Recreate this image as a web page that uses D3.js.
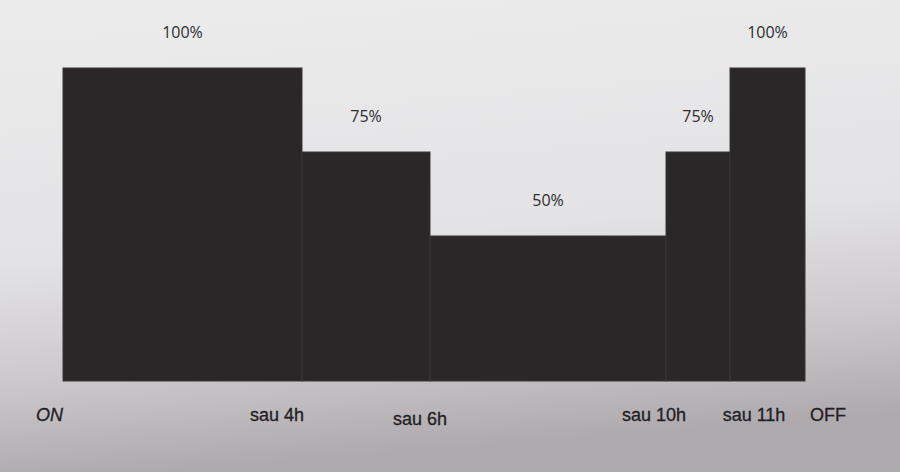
<!DOCTYPE html>
<html>
<head>
<meta charset="utf-8">
<script src="https://cdn.jsdelivr.net/npm/d3@7"></script>
<style>
  body { margin: 0; }
  svg { display: block; }
</style>
</head>
<body>
<svg id="chart"></svg>
<script>
// step segments: start hour, end hour, power level
const segStart = [0, 4, 6, 10, 11];
const segEnd = [4, 6, 10, 11, 12];
const power = [100, 75, 50, 75, 100];
const powerLabels = ['100%', '75%', '50%', '75%', '100%'];
// tick labels along the bottom
const tickHours = [0, 4, 6, 10, 11, 12];
const tickLabels = ['ON', 'sau 4h', 'sau 6h', 'sau 10h', 'sau 11h', 'OFF'];

const width = 900, height = 472;
const baseY = 381;

const svg = d3.select('#chart')
    .attr('width', width)
    .attr('height', height);

// paper-ish background from the photo
const defs = svg.append('defs');
const grad = defs.append('linearGradient')
    .attr('id', 'paper')
    .attr('x1', 0).attr('y1', 0).attr('x2', 0.15).attr('y2', 1);
grad.append('stop').attr('offset', '0%').attr('stop-color', '#ececed');
grad.append('stop').attr('offset', '55%').attr('stop-color', '#e3e2e4');
grad.append('stop').attr('offset', '80%').attr('stop-color', '#cbc8cb');
grad.append('stop').attr('offset', '100%').attr('stop-color', '#aeaaad');

svg.append('rect')
    .attr('width', width)
    .attr('height', height)
    .attr('fill', 'url(#paper)');

// hours are not evenly spaced in the print, so piecewise scale
const xScale = d3.scaleLinear()
    .domain([0, 4, 6, 10, 11, 12])
    .range([63, 302, 430, 666, 730, 805]);

const yScale = d3.scaleLinear()
    .domain([0, 100])
    .range([404, 68]);

svg.selectAll('rect.bar')
    .data(power)
    .enter().append('rect')
    .attr('class', 'bar')
    .attr('x', (d, i) => xScale(segStart[i]))
    .attr('y', d => yScale(d))
    .attr('width', (d, i) => xScale(segEnd[i]) - xScale(segStart[i]))
    .attr('height', d => baseY - yScale(d))
    .attr('fill', '#2b2729')
    .attr('stroke', '#3b3739')
    .attr('stroke-width', 1);

svg.selectAll('text.pct')
    .data(power)
    .enter().append('text')
    .attr('class', 'pct')
    .attr('x', (d, i) => (xScale(segStart[i]) + xScale(segEnd[i])) / 2)
    .attr('y', d => yScale(d) - 30)
    .attr('text-anchor', 'middle')
    .style('font-family', '"Open Sans", sans-serif')
    .style('font-size', '16px')
    .attr('fill', '#2e2d30')
    .text((d, i) => powerLabels[i]);

svg.selectAll('text.tick')
    .data(tickHours)
    .enter().append('text')
    .attr('class', 'tick')
    .attr('x', d => xScale(d))
    .attr('y', (d, i) => i == 2 ? 425 : 421)
    .attr('text-anchor', (d, i) => i == 0 ? 'end' : (i == tickHours.length - 1 ? 'start' : 'middle'))
    .attr('dx', (d, i) => [0, -25, -10, -12, 24, 5][i])
    .style('font-family', '"Liberation Sans", Arial, sans-serif')
    .style('font-size', '18px')
    .style('font-style', (d, i) => i == 0 ? 'italic' : 'normal')
    .attr('fill', '#222023')
    .attr('stroke', '#222023')
    .attr('stroke-width', 0.3)
    .text((d, i) => tickLabels[i]);
</script>
</body>
</html>
